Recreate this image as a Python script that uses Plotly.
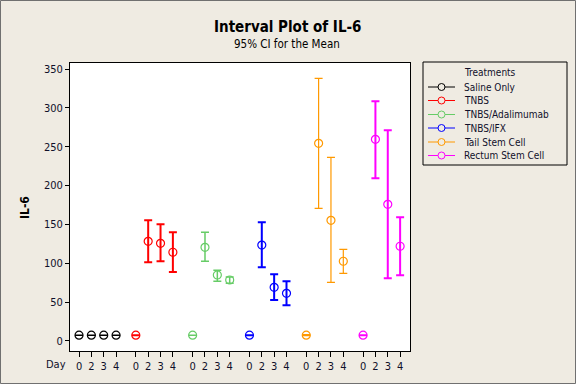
import plotly.graph_objects as go

# ---------------- data ----------------
days = ["0", "2", "3", "4"]
treatments = ["Saline Only", "TNBS", "TNBS/Adalimumab", "TNBS/IFX",
              "Tail Stem Cell", "Rectum Stem Cell"]
colors = ["#000000", "#FF0000", "#66CC66", "#0000FF", "#FF9900", "#FF00FF"]

saline_mean = [7.5, 7.5, 7.5, 7.5]
saline_upper = [7.5, 7.5, 7.5, 7.5]
saline_lower = [7.5, 7.5, 7.5, 7.5]

tnbs_mean = [7.5, 128.3, 125.7, 114.2]
tnbs_upper = [7.5, 155.3, 150.2, 139.9]
tnbs_lower = [7.5, 101.3, 102.6, 88.8]

adali_mean = [7.5, 120.6, 84.9, 78.5]
adali_upper = [7.5, 139.9, 91.0, 82.4]
adali_lower = [7.5, 102.6, 76.8, 74.2]

ifx_mean = [7.5, 123.5, 69.1, 61.4]
ifx_upper = [7.5, 152.7, 85.8, 76.8]
ifx_lower = [7.5, 94.8, 52.8, 45.9]

tail_mean = [7.5, 254.4, 155.3, 102.6]
tail_upper = [8.1, 338.0, 236.4, 118.0]
tail_lower = [6.9, 170.8, 75.5, 87.1]

rectum_mean = [7.5, 259.6, 175.9, 121.9]
rectum_upper = [7.5, 308.5, 271.2, 159.2]
rectum_lower = [7.5, 209.4, 80.7, 84.6]

means = [saline_mean, tnbs_mean, adali_mean, ifx_mean, tail_mean, rectum_mean]
uppers = [saline_upper, tnbs_upper, adali_upper, ifx_upper, tail_upper, rectum_upper]
lowers = [saline_lower, tnbs_lower, adali_lower, ifx_lower, tail_lower, rectum_lower]

# ---------------- layout helpers ----------------
W, H = 576, 384
L, R, T, B = 70, 166, 63, 33
PW, PH = W - L - R, H - T - B
GROUP_STEP = 4.6  # category slots per group incl. gap

def px_x(px):
    return (px - L) / PW

def px_y(py):
    return (H - B - py) / PH

FONT = "Tahoma, 'DejaVu Sans Condensed', 'DejaVu Sans', sans-serif"
TXT = "#10102a"

fig = go.Figure()
thick = [1.5, 2, 1.5, 2, 1.2, 2]
tickvals, ticktext = [], []
for g, name in enumerate(treatments):
    xs = [g * GROUP_STEP + i for i in range(len(days))]
    tickvals += xs
    ticktext += days
    m, u, lo = means[g], uppers[g], lowers[g]
    fig.add_trace(go.Scatter(
        x=xs, y=m, mode="markers", name=name, showlegend=False,
        marker=dict(symbol="circle-open", size=8, color=colors[g],
                    line=dict(width=1.2, color=colors[g])),
        error_y=dict(type="data", symmetric=False,
                     array=[a - b for a, b in zip(u, m)],
                     arrayminus=[a - b for a, b in zip(m, lo)],
                     color=colors[g], thickness=thick[g], width=4),
    ))

fig.update_layout(
    width=W, height=H,
    margin=dict(l=L, r=R, t=T, b=B),
    paper_bgcolor="#EFEBE2", plot_bgcolor="white",
    font=dict(family=FONT, size=11, color=TXT),
    showlegend=False,
)
fig.update_xaxes(
    range=[-0.73, 26.8], tickvals=tickvals, ticktext=ticktext,
    showgrid=False, zeroline=False, showline=True, mirror=True,
    linecolor="black", linewidth=1, ticks="outside", ticklen=5,
    tickcolor="black", tickfont=dict(size=11, color=TXT),
)
fig.update_yaxes(
    range=[-12.9, 357.8], tickvals=[0, 50, 100, 150, 200, 250, 300, 350],
    showgrid=False, zeroline=False, showline=True, mirror=True,
    linecolor="black", linewidth=1, ticks="outside", ticklen=4,
    tickcolor="black", tickfont=dict(size=11, color=TXT),
)

def note(px, py, text, size, xanchor="center", color=TXT, angle=0):
    return dict(x=px_x(px), y=px_y(py), xref="paper", yref="paper",
                xanchor=xanchor, yanchor="middle", text=text, showarrow=False,
                textangle=angle, font=dict(family=FONT, size=size, color=color))

ann = []
ann.append(note(287, 27, "<b>Interval Plot of IL-6</b>", 15, color="black"))
ann.append(note(287, 44, "95% CI for the Mean", 11.5, color="black"))
ann.append(note(25, 208, "<b>IL-6</b>", 12, color="black", angle=-90))
ann.append(note(56, 364, "Day", 11))

shapes = []
# legend box
shapes.append(dict(type="rect", xref="paper", yref="paper",
                   x0=px_x(423), x1=px_x(567), y0=px_y(62), y1=px_y(165),
                   line=dict(color="black", width=1), fillcolor="#EFEBE2",
                   layer="below"))
ann.append(note(462, 72, "Treatments", 10, xanchor="left"))
row_y = [87, 100.5, 114.5, 128, 142, 155.5]
for g, name in enumerate(treatments):
    yy = px_y(row_y[g])
    shapes.append(dict(type="line", xref="paper", yref="paper",
                       x0=px_x(428), x1=px_x(455), y0=yy, y1=yy,
                       line=dict(color=colors[g], width=1)))
    shapes.append(dict(type="circle", xref="paper", yref="paper",
                       xsizemode="pixel", ysizemode="pixel",
                       xanchor=px_x(441.5), yanchor=yy,
                       x0=-3.5, x1=3.5, y0=-3.5, y1=3.5,
                       line=dict(color=colors[g], width=1), fillcolor="#EFEBE2"))
    ann.append(note(462, row_y[g], name, 10, xanchor="left"))

# outer frame
shapes.append(dict(type="rect", xref="paper", yref="paper",
                   x0=px_x(0.5), x1=px_x(575.5), y0=px_y(0.5), y1=px_y(383.5),
                   line=dict(color="#707070", width=1)))

fig.update_layout(annotations=ann, shapes=shapes)
fig.write_html("out.html", config={"displayModeBar": False},
               post_script="document.body.style.margin='0';document.body.style.overflow='hidden';")
